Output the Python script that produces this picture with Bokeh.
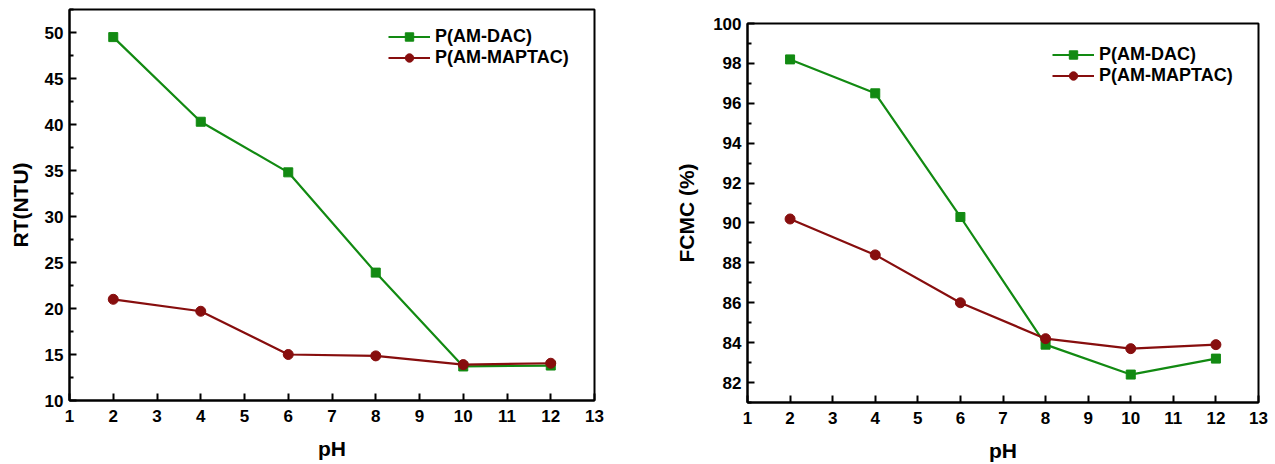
from bokeh.plotting import figure
from bokeh.layouts import row, column
from bokeh.models import Range1d, FixedTicker, Legend, LegendItem
from bokeh.embed import file_html
from bokeh.resources import INLINE

ph = [2, 4, 6, 8, 10, 12]
rt_dac = [49.5, 40.3, 34.8, 23.9, 13.7, 13.8]
rt_maptac = [21.0, 19.7, 15.0, 14.85, 13.9, 14.05]
fcmc_dac = [98.2, 96.5, 90.3, 83.9, 82.4, 83.2]
fcmc_maptac = [90.2, 88.4, 86.0, 84.2, 83.7, 83.9]
x_ticks = list(range(1, 14))
rt_ticks = [10, 15, 20, 25, 30, 35, 40, 45, 50]
fcmc_ticks = [82, 84, 86, 88, 90, 92, 94, 96, 98, 100]
names = ["P(AM-DAC)", "P(AM-MAPTAC)"]

GREEN = "#128a12"
RED = "#870e0e"
FONT = "Liberation Sans"


def style(p, yticks, yminor, ylabel, standoff_y):
    p.title.visible = False
    p.outline_line_color = "black"
    p.outline_line_width = 2
    p.outline_line_alpha = 1
    p.xgrid.visible = False
    p.ygrid.visible = False
    p.xaxis.ticker = FixedTicker(ticks=x_ticks)
    p.yaxis.ticker = FixedTicker(ticks=yticks, minor_ticks=yminor)
    for ax in (p.xaxis[0], p.yaxis[0]):
        ax.axis_line_width = 2
        ax.axis_line_color = "black"
        ax.major_tick_in = 7
        ax.major_tick_out = 0
        ax.minor_tick_in = 4
        ax.minor_tick_out = 0
        ax.major_tick_line_width = 2
        ax.minor_tick_line_width = 2
        ax.major_label_text_font = FONT
        ax.major_label_text_font_style = "bold"
        ax.major_label_text_font_size = "17px"
        ax.major_label_text_color = "black"
        ax.axis_label_text_font = FONT
        ax.axis_label_text_font_style = "bold"
        ax.axis_label_text_font_size = "21px"
        ax.axis_label_text_color = "black"
    p.xaxis.minor_tick_line_color = None
    p.xaxis.axis_label = "pH"
    p.xaxis.major_label_standoff = 9
    p.xaxis.axis_label_standoff = 12
    p.yaxis.axis_label = ylabel
    p.yaxis.major_label_standoff = 6
    p.yaxis.axis_label_standoff = standoff_y


def series(p, y1, y2, loc):
    l1 = p.line(ph, y1, line_color=GREEN, line_width=2.2)
    s1 = p.scatter(ph, y1, marker="square", size=9, fill_color=GREEN, line_color=GREEN)
    l2 = p.line(ph, y2, line_color=RED, line_width=2.2)
    s2 = p.scatter(ph, y2, marker="circle", size=10, fill_color=RED, line_color=RED)
    leg = Legend(items=[LegendItem(label=names[0], renderers=[l1, s1]),
                        LegendItem(label=names[1], renderers=[l2, s2])],
                 location=loc)
    leg.background_fill_alpha = 0
    leg.border_line_color = None
    leg.padding = 0
    leg.margin = 0
    leg.spacing = 0
    leg.glyph_width = 42
    leg.glyph_height = 21
    leg.label_height = 21
    leg.label_standoff = 5
    leg.label_text_font = FONT
    leg.label_text_font_style = "bold"
    leg.label_text_font_size = "18px"
    leg.label_text_color = "black"
    p.add_layout(leg)


p1 = figure(width=640, height=464, output_backend="svg", toolbar_location=None,
            x_range=Range1d(1, 13), y_range=Range1d(10, 52.5),
            min_border_left=69, min_border_right=46, min_border_top=9, min_border_bottom=64)
style(p1, rt_ticks, [12.5, 17.5, 22.5, 27.5, 32.5, 37.5, 42.5, 47.5, 52.5], "RT(NTU)", 10)
series(p1, rt_dac, rt_maptac, (319, 332))

p2 = figure(width=635, height=464, output_backend="svg", toolbar_location=None,
            x_range=Range1d(1, 13), y_range=Range1d(81, 100),
            min_border_left=107, min_border_right=17, min_border_top=23, min_border_bottom=62)
style(p2, fcmc_ticks, [81, 83, 85, 87, 89, 91, 93, 95, 97, 99], "FCMC (%)", 12)
series(p2, fcmc_dac, fcmc_maptac, (305, 316))

layout = row(column(p1), column(p2))
open("out.html", "w").write(file_html(layout, INLINE))
